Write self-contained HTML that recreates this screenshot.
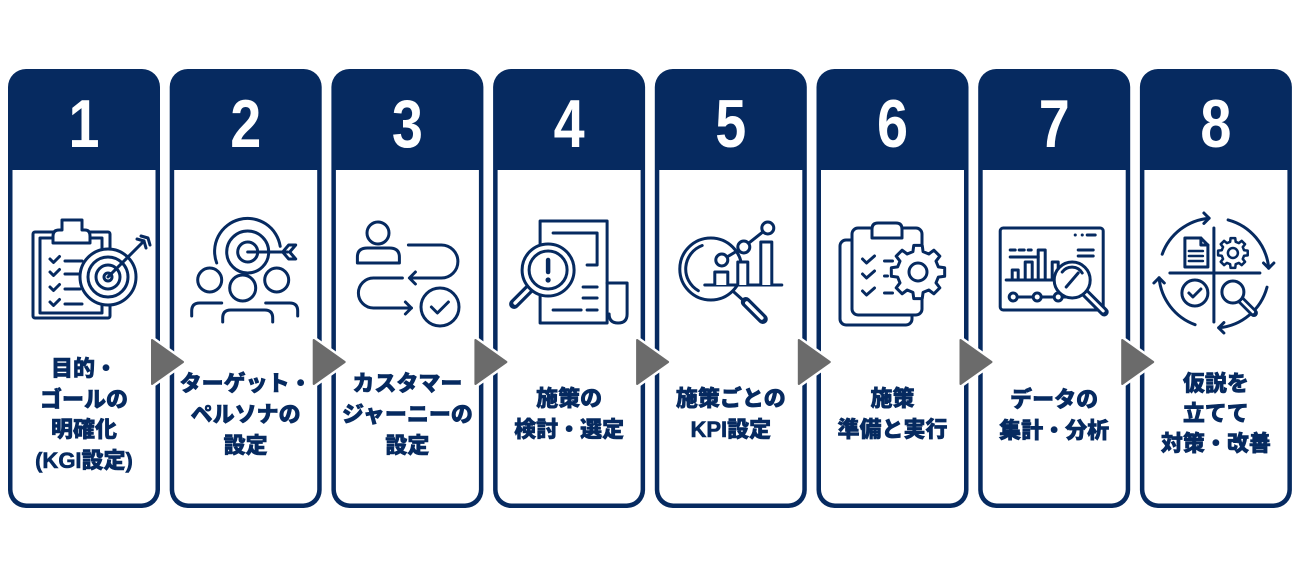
<!DOCTYPE html>
<html><head><meta charset="utf-8"><style>
html,body{margin:0;padding:0;background:#fff;}
svg{display:block;}
.ic{fill:none;stroke:#062a60;stroke-width:3;stroke-linecap:round;stroke-linejoin:round;}
.num{font-family:"Liberation Sans",sans-serif;font-weight:bold;font-size:68px;fill:#fff;}
.lb{font-family:"Liberation Sans","Noto Sans CJK JP",sans-serif;font-weight:900;font-size:22px;fill:#062a60;stroke:#062a60;stroke-width:0.6;}
</style></head><body>
<svg width="1300" height="580" viewBox="0 0 1300 580" xmlns="http://www.w3.org/2000/svg">
<rect width="1300" height="580" fill="#fff"/>

<!-- Card 1 -->
<g transform="translate(8,0)">
<rect x="0" y="69" width="152" height="439" rx="18" fill="#062a60"/>
<path d="M4.5 170 H147.5 V489.5 A14 14 0 0 1 133.5 503.5 H18.5 A14 14 0 0 1 4.5 489.5 Z" fill="#fff"/>
<text class="num" text-anchor="middle" transform="translate(76 147) scale(0.82 1)">1</text>
<g class="ic">
<rect x="25" y="232" width="77" height="86" rx="2"/>
<rect x="32" y="238" width="62" height="75"/>
<path d="M45 243 V236 Q45 230 51 230 H54 V220 H74 V230 H77 Q82 230 82 236 V243 Z" fill="#fff"/>
<path d="M42 259 l3.5 3.5 l6 -6 M42 272 l3.5 3.5 l6 -6 M42 287 l3.5 3.5 l6 -6 M42 302 l3.5 3.5 l6 -6"/>
<path d="M57 261 H74 M57 274 H72 M57 289 H72 M57 304 H74"/>
<circle cx="100" cy="277" r="28" fill="#fff"/>
<circle cx="100" cy="277" r="20"/>
<circle cx="100" cy="277" r="12"/>
<circle cx="100" cy="277" r="4"/>
<path d="M100 277 L136 241"/>
<path d="M129 239 L136 241 L138 248 M133 236 L140 238 L142 245"/>
</g>
<text class="lb" x="76" y="376" text-anchor="middle">目的・</text>
<text class="lb" x="76" y="407" text-anchor="middle">ゴールの</text>
<text class="lb" x="76" y="437" text-anchor="middle">明確化</text>
<text class="lb" x="76" y="468" text-anchor="middle">(KGI設定)</text>
</g>

<!-- Card 2 -->
<g transform="translate(169.7,0)">
<rect x="0" y="69" width="152" height="439" rx="18" fill="#062a60"/>
<path d="M4.5 170 H147.5 V489.5 A14 14 0 0 1 133.5 503.5 H18.5 A14 14 0 0 1 4.5 489.5 Z" fill="#fff"/>
<text class="num" text-anchor="middle" transform="translate(76 147) scale(0.82 1)">2</text>
<g class="ic">
<path d="M47 263 A33 33 0 1 1 110.5 246.3"/>
<circle cx="78" cy="252" r="21"/>
<circle cx="78" cy="252" r="10"/>
<path d="M78 252 H118"/>
<path d="M113 252 L119 245 H126 L120 252 L126 259 H119 Z"/>
<path d="M22 316 V311 Q22 303 30 303 H52"/>
<path d="M128 316 V311 Q128 303 120 303 H96"/>
<circle cx="40" cy="280" r="12" fill="#fff"/>
<circle cx="107" cy="280" r="12" fill="#fff"/>
<path d="M53 322 V318 Q53 310 61 310 H95 Q103 310 103 318 V322" fill="#fff"/>
<circle cx="73" cy="288" r="13" fill="#fff"/>
</g>
<text class="lb" x="76" y="391" text-anchor="middle">ターゲット・</text>
<text class="lb" x="76" y="422" text-anchor="middle">ペルソナの</text>
<text class="lb" x="76" y="453" text-anchor="middle">設定</text>
</g>

<!-- Card 3 -->
<g transform="translate(331.4,0)">
<rect x="0" y="69" width="152" height="439" rx="18" fill="#062a60"/>
<path d="M4.5 170 H147.5 V489.5 A14 14 0 0 1 133.5 503.5 H18.5 A14 14 0 0 1 4.5 489.5 Z" fill="#fff"/>
<text class="num" text-anchor="middle" transform="translate(76 147) scale(0.82 1)">3</text>
<g class="ic">
<circle cx="46.6" cy="233" r="11"/>
<path d="M26 263 V257 Q26 248 36 248 H58 Q68 248 68 257 V263 Z"/>
<path d="M77 245 H110 A16.5 16.5 0 0 1 110 278 H79"/>
<path d="M84 272 L78 278 L84 284"/>
<path d="M71 278 H42 A15 15 0 0 0 42 308 H80"/>
<path d="M74 302 L80 308 L74 314"/>
<circle cx="108.6" cy="307" r="19"/>
<path d="M100 307 L106 313 L117 302"/>
</g>
<text class="lb" x="76" y="391" text-anchor="middle">カスタマー</text>
<text class="lb" x="76" y="422" text-anchor="middle">ジャーニーの</text>
<text class="lb" x="76" y="453" text-anchor="middle">設定</text>
</g>

<!-- Card 4 -->
<g transform="translate(493.1,0)">
<rect x="0" y="69" width="152" height="439" rx="18" fill="#062a60"/>
<path d="M4.5 170 H147.5 V489.5 A14 14 0 0 1 133.5 503.5 H18.5 A14 14 0 0 1 4.5 489.5 Z" fill="#fff"/>
<text class="num" text-anchor="middle" transform="translate(76 147) scale(0.82 1)">4</text>
<g class="ic">
<path d="M47 221 H114 V323 H47 Z"/>
<path d="M114 283 H134 V314 Q134 323 125 323 Q116 323 116 314"/>
<path d="M60 233 H104 V265 H94"/>
<path d="M90 287 H104 M90 298 H104 M60 310 H88 M94 310 H104"/>
<path d="M36 289 L21 304" stroke-width="10"/>
<path d="M35 290 L22 303" stroke="#fff" stroke-width="3.5"/>
<circle cx="55" cy="270" r="26" fill="#fff"/>
<circle cx="55" cy="270" r="19"/>
<path d="M55 260 V272" stroke-width="4.5"/>
</g>
<circle cx="55" cy="280" r="2.6" fill="#062a60"/>
<text class="lb" x="76" y="406" text-anchor="middle">施策の</text>
<text class="lb" x="76" y="437" text-anchor="middle">検討・選定</text>
</g>

<!-- Card 5 -->
<g transform="translate(654.8,0)">
<rect x="0" y="69" width="152" height="439" rx="18" fill="#062a60"/>
<path d="M4.5 170 H147.5 V489.5 A14 14 0 0 1 133.5 503.5 H18.5 A14 14 0 0 1 4.5 489.5 Z" fill="#fff"/>
<text class="num" text-anchor="middle" transform="translate(76 147) scale(0.82 1)">5</text>
<g class="ic">
<circle cx="56" cy="269" r="31"/>
<path d="M47.4 245.5 A25 25 0 0 0 43.5 290.7"/>
<path d="M78 291 L88 300"/>
<path d="M91 302 L108 319" stroke-width="10"/>
<path d="M92 303 L107 318" stroke="#fff" stroke-width="3.5"/>
<path d="M50 285 H127"/>
<path d="M60 285 V272 H73 V285" fill="#fff"/>
<path d="M83 285 V262 H93 V285" fill="#fff"/>
<path d="M106 285 V242 H117 V285" fill="#fff"/>
<path d="M72.2 257 L83.8 250 M93.7 243.3 L108.3 231.7"/>
<circle cx="67" cy="260" r="6" fill="#fff"/>
<circle cx="89" cy="247" r="6" fill="#fff"/>
<circle cx="113" cy="228" r="6" fill="#fff"/>
</g>
<text class="lb" x="76" y="406" text-anchor="middle">施策ごとの</text>
<text class="lb" x="76" y="437" text-anchor="middle">KPI設定</text>
</g>

<!-- Card 6 -->
<g transform="translate(816.5,0)">
<rect x="0" y="69" width="152" height="439" rx="18" fill="#062a60"/>
<path d="M4.5 170 H147.5 V489.5 A14 14 0 0 1 133.5 503.5 H18.5 A14 14 0 0 1 4.5 489.5 Z" fill="#fff"/>
<text class="num" text-anchor="middle" transform="translate(76 147) scale(0.82 1)">6</text>
<g class="ic">
<rect x="23.5" y="240" width="72" height="85" rx="6" fill="#fff"/>
<rect x="35.5" y="228" width="70" height="87" rx="6" fill="#fff"/>
<path d="M55.5 238 V229 Q55.5 223 61.5 223 H79.5 Q85.5 223 85.5 229 V238 Z" fill="#fff"/>
<path d="M46 259 l4 4 l8 -7 M46 274 l4 4 l8 -7 M46 291 l4 4 l8 -7"/>
<path d="M68 261 H76 M68 276 H71 M68 293 H76"/>
<g transform="translate(101.5 272)">
<path d="M20.38 -5.08 L26.67 -4.22 L26.67 4.22 L20.38 5.08 L18.00 10.82 L21.84 15.87 L15.87 21.84 L10.82 18.00 L5.08 20.38 L4.22 26.67 L-4.22 26.67 L-5.08 20.38 L-10.82 18.00 L-15.87 21.84 L-21.84 15.87 L-18.00 10.82 L-20.38 5.08 L-26.67 4.22 L-26.67 -4.22 L-20.38 -5.08 L-18.00 -10.82 L-21.84 -15.87 L-15.87 -21.84 L-10.82 -18.00 L-5.08 -20.38 L-4.22 -26.67 L4.22 -26.67 L5.08 -20.38 L10.82 -18.00 L15.87 -21.84 L21.84 -15.87 L18.00 -10.82 Z" fill="#fff"/>
<circle cx="0" cy="0" r="9"/>
</g>
</g>
<text class="lb" x="76" y="406" text-anchor="middle">施策</text>
<text class="lb" x="76" y="437" text-anchor="middle">準備と実行</text>
</g>

<!-- Card 7 -->
<g transform="translate(978.2,0)">
<rect x="0" y="69" width="152" height="439" rx="18" fill="#062a60"/>
<path d="M4.5 170 H147.5 V489.5 A14 14 0 0 1 133.5 503.5 H18.5 A14 14 0 0 1 4.5 489.5 Z" fill="#fff"/>
<text class="num" text-anchor="middle" transform="translate(76 147) scale(0.82 1)">7</text>
<g class="ic">
<rect x="22" y="228" width="103" height="82" rx="3"/>
<path d="M97 235 h0.1 M104 235 h0.1 M109 235 H117"/>
<path d="M32 250 H37 M41 250 H46 M50 250 H53 M32 257 H60"/>
<path d="M34 280 V270 H40 V280 M47 280 V262 H54 V280 M60 280 V250 H67 V280 M74 280 V262 H80 V280"/>
<path d="M28 280 H84"/>
<path d="M100 250 H115 M100 256 H115"/>
<path d="M35 297 H88"/>
<circle cx="35" cy="297" r="4" fill="#fff"/>
<circle cx="59" cy="297" r="4" fill="#fff"/>
<circle cx="80" cy="297" r="4" fill="#fff"/>
<path d="M107 293 L126 312" stroke-width="9"/>
<path d="M108 294 L125 311" stroke="#fff" stroke-width="3"/>
<circle cx="94" cy="280" r="18" fill="#fff"/>
<path d="M84 272 A12 12 0 0 1 104 273"/>
<path d="M88 287 L100 273"/>
</g>
<text class="lb" x="76" y="407" text-anchor="middle">データの</text>
<text class="lb" x="76" y="438" text-anchor="middle">集計・分析</text>
</g>

<!-- Card 8 -->
<g transform="translate(1139.9,0)">
<rect x="0" y="69" width="152" height="439" rx="18" fill="#062a60"/>
<path d="M4.5 170 H147.5 V489.5 A14 14 0 0 1 133.5 503.5 H18.5 A14 14 0 0 1 4.5 489.5 Z" fill="#fff"/>
<text class="num" text-anchor="middle" transform="translate(76 147) scale(0.82 1)">8</text>
<g class="ic">
<path d="M30 273 H120 M74 228 V322"/>
<path d="M22.3 254.2 A55 55 0 0 1 69.2 218.2"/>
<path d="M64 213 L69.2 218.2 L64 223.4"/>
<path d="M88.2 219.9 A55 55 0 0 1 128.8 268.2"/>
<path d="M123.6 263 L128.8 268.2 L134 263"/>
<path d="M127.1 287.2 A55 55 0 0 1 78.8 327.8"/>
<path d="M84 322.6 L78.8 327.8 L84 333"/>
<path d="M55.2 324.7 A55 55 0 0 1 19.2 277.8"/>
<path d="M14 283 L19.2 277.8 L24.4 283"/>
<path d="M45 238 H61 L68 245 V267 H45 Z"/>
<path d="M61 238 V245 H68"/>
<path d="M49 251 H63 M49 256 H63 M49 261 H63" stroke-width="2.5"/>
<g transform="translate(93 253)">
<path d="M11.16 -2.78 L14.82 -2.35 L14.82 2.35 L11.16 2.78 L9.86 5.92 L12.14 8.82 L8.82 12.14 L5.92 9.86 L2.78 11.16 L2.35 14.82 L-2.35 14.82 L-2.78 11.16 L-5.92 9.86 L-8.82 12.14 L-12.14 8.82 L-9.86 5.92 L-11.16 2.78 L-14.82 2.35 L-14.82 -2.35 L-11.16 -2.78 L-9.86 -5.92 L-12.14 -8.82 L-8.82 -12.14 L-5.92 -9.86 L-2.78 -11.16 L-2.35 -14.82 L2.35 -14.82 L2.78 -11.16 L5.92 -9.86 L8.82 -12.14 L12.14 -8.82 L9.86 -5.92 Z" stroke-width="2.5"/>
<circle cx="0" cy="0" r="5" stroke-width="2.5"/>
</g>
<circle cx="55" cy="293" r="13"/>
<path d="M49 293 l4 4 l8 -8"/>
<path d="M101 300 L114 313" stroke-width="8"/>
<path d="M102 301 L113 312" stroke="#fff" stroke-width="2.5"/>
<circle cx="93" cy="292" r="11" fill="#fff"/>
</g>
<text class="lb" x="76" y="391" text-anchor="middle">仮説を</text>
<text class="lb" x="76" y="421" text-anchor="middle">立てて</text>
<text class="lb" x="76" y="451" text-anchor="middle">対策・改善</text>
</g>

<!-- Arrows -->
<g stroke-linejoin="round">
<g fill="#fff" stroke="#fff" stroke-width="7">
<polygon points="152,340 152,384 183,362"/>
<polygon points="313.7,340 313.7,384 344.7,362"/>
<polygon points="475.4,340 475.4,384 506.4,362"/>
<polygon points="637.1,340 637.1,384 668.1,362"/>
<polygon points="798.8,340 798.8,384 829.8,362"/>
<polygon points="960.5,340 960.5,384 991.5,362"/>
<polygon points="1122.2,340 1122.2,384 1153.2,362"/>
</g>
<g fill="#6b6b6b" stroke="#6b6b6b" stroke-width="2">
<polygon points="152,340 152,384 183,362"/>
<polygon points="313.7,340 313.7,384 344.7,362"/>
<polygon points="475.4,340 475.4,384 506.4,362"/>
<polygon points="637.1,340 637.1,384 668.1,362"/>
<polygon points="798.8,340 798.8,384 829.8,362"/>
<polygon points="960.5,340 960.5,384 991.5,362"/>
<polygon points="1122.2,340 1122.2,384 1153.2,362"/>
</g>
</g>
</svg>
</body></html>
